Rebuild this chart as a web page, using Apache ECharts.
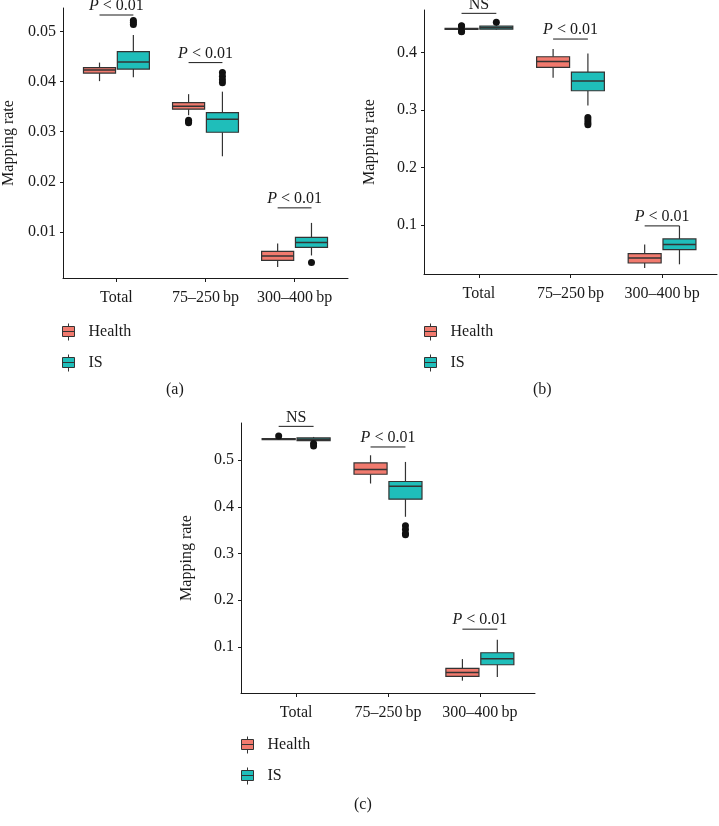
<!DOCTYPE html>
<html>
<head>
<meta charset="utf-8">
<script src="https://cdn.jsdelivr.net/npm/echarts@6/dist/echarts.min.js"></script>
<style>html,body{margin:0;padding:0;background:#fff;}#c{width:719px;height:826px;}</style>
</head>
<body>
<div id="c"></div>
<script>
// ---------- DATA ----------
const categories = ['Total', '75–250\u2009bp', '300–400\u2009bp'];
const seriesNames = ['Health', 'IS'];
// box stats per category: [min, q1, median, q3, max]
const healthA = [[0.0401, 0.0417, 0.0423, 0.0428, 0.0438], [0.0333, 0.0345, 0.0351, 0.0358, 0.0375], [0.0030, 0.0043, 0.0052, 0.0061, 0.0077]];
const isA     = [[0.0409, 0.0425, 0.0439, 0.0460, 0.0493], [0.0251, 0.0299, 0.0325, 0.0338, 0.0380], [0.0053, 0.0069, 0.0079, 0.0089, 0.0118]];
const healthB = [[0.4400, 0.4412, 0.4418, 0.4424, 0.4436], [0.3564, 0.3744, 0.3849, 0.3930, 0.4064], [0.0250, 0.0337, 0.0424, 0.0500, 0.0657]];
const isB     = [[0.4395, 0.4410, 0.4436, 0.4462, 0.4478], [0.3081, 0.3337, 0.3506, 0.3663, 0.3988], [0.0314, 0.0570, 0.0657, 0.0756, 0.0983]];
const healthC = [[0.5440, 0.5450, 0.5456, 0.5462, 0.5470], [0.4501, 0.4700, 0.4800, 0.4943, 0.5107], [0.0273, 0.0365, 0.0451, 0.0537, 0.0736]];
const isC     = [[0.5390, 0.5421, 0.5449, 0.5478, 0.5500], [0.3788, 0.4166, 0.4444, 0.4544, 0.4964], [0.0351, 0.0615, 0.0743, 0.0872, 0.1150]];
// outliers: [categoryIndex, value]
const healthOutA = [[1, 0.0323], [1, 0.0320], [1, 0.0318]];
const isOutA     = [[0, 0.0522], [0, 0.0518], [0, 0.0514], [1, 0.0418], [1, 0.0411], [1, 0.0404], [1, 0.0398], [2, 0.0039]];
const healthOutB = [[0, 0.4470], [0, 0.4460], [0, 0.4375], [0, 0.4365]];
const isOutB     = [[0, 0.4530], [1, 0.2872], [1, 0.2826], [1, 0.2779], [1, 0.2744]];
const healthOutC = [[0, 0.5520]];
const isOutC     = [[0, 0.5357], [0, 0.5307], [1, 0.3595], [1, 0.3517], [1, 0.3431], [1, 0.3403]];
// significance brackets: [categoryIndex, y, label]
const bracketsA = [[0, 0.0533, 'P < 0.01'], [1, 0.0438, 'P < 0.01'], [2, 0.0148, 'P < 0.01']];
const bracketsB = [[0, 0.4686, 'NS'], [1, 0.4238, 'P < 0.01'], [2, 0.0983, 'P < 0.01']];
const bracketsC = [[0, 0.5727, 'NS'], [1, 0.5285, 'P < 0.01'], [2, 0.1378, 'P < 0.01']];
// y tick labels
const yTicksA = [0.01, 0.02, 0.03, 0.04, 0.05];
const yTicksB = [0.1, 0.2, 0.3, 0.4];
const yTicksC = [0.1, 0.2, 0.3, 0.4, 0.5];
const captions = ['(a)', '(b)', '(c)'];

// ---------- STYLE ----------
const SERIF = '"Liberation Serif", "DejaVu Serif", serif';
const TXT = '#1a1a1a';
const EDGE = '#333333';
const FILL = {Health: '#F17A6E', IS: '#1FBEBA'};
const BOX_W = 0.36, DODGE = 0.19, BR = 0.19;
const FS = 16;

const chart = echarts.init(document.getElementById('c'));

function boxRender(offset, fill) {
  return function (params, api) {
    const x = api.value(0) + offset;
    const p = [1, 2, 3, 4, 5].map(i => api.coord([x, api.value(i)]));
    const hw = api.size([BOX_W, 0])[0] / 2;
    const cx = p[0][0];
    const ls = {stroke: EDGE, lineWidth: 1.2};
    return {type: 'group', children: [
      {type: 'line', shape: {x1: cx, y1: p[0][1], x2: cx, y2: p[1][1]}, style: ls},
      {type: 'line', shape: {x1: cx, y1: p[3][1], x2: cx, y2: p[4][1]}, style: ls},
      {type: 'rect', shape: {x: cx - hw, y: p[3][1], width: 2 * hw, height: Math.max(p[1][1] - p[3][1], 1)}, style: {fill: fill, stroke: EDGE, lineWidth: 1.2}},
      {type: 'line', shape: {x1: cx - hw, y1: p[2][1], x2: cx + hw, y2: p[2][1]}, style: {stroke: EDGE, lineWidth: 1.5}}
    ]};
  };
}
function bracketRender(arr) {
  return function (params, api) {
    const c = api.value(0), y = api.value(1);
    const label = arr[params.dataIndex][2];
    const p1 = api.coord([c - BR, y]), p2 = api.coord([c + BR, y]);
    const txt = label.startsWith('P ') ? '{i|P}' + label.slice(1) : label;
    return {type: 'group', children: [
      {type: 'line', shape: {x1: p1[0], y1: p1[1], x2: p2[0], y2: p2[1]}, style: {stroke: TXT, lineWidth: 1}},
      {type: 'text', style: {
        text: txt, x: (p1[0] + p2[0]) / 2, y: p1[1] - 1, align: 'center', verticalAlign: 'bottom',
        fill: TXT, fontFamily: SERIF, fontSize: FS,
        rich: {i: {fontStyle: 'italic', fontFamily: SERIF, fontSize: FS, fill: TXT}}
      }}
    ]};
  };
}

const panels = [
  {h: healthA, s: isA, ho: healthOutA, so: isOutA, br: bracketsA, ticks: yTicksA, min: 0.0008, max: 0.0547, dec: 2,
   grid: {left: 63, top: 8, width: 285, height: 270}, legend: {left: 57, top: 318}, cap: {left: 161, top: 377}},
  {h: healthB, s: isB, ho: healthOutB, so: isOutB, br: bracketsB, ticks: yTicksB, min: 0.0145, max: 0.4744, dec: 1,
   grid: {left: 424, top: 10, width: 293, height: 264}, legend: {left: 419, top: 318}, cap: {left: 528, top: 377}},
  {h: healthC, s: isC, ho: healthOutC, so: isOutC, br: bracketsC, ticks: yTicksC, min: 0.0009, max: 0.5799, dec: 1,
   grid: {left: 241, top: 423, width: 294, height: 270}, legend: {left: 236, top: 731}, cap: {left: 349, top: 792}}
];

const option = {
  backgroundColor: '#fff',
  animation: false,
  grid: [], xAxis: [], yAxis: [], series: [], legend: [], title: []
};

panels.forEach((P, k) => {
  option.grid.push(Object.assign({containLabel: false}, P.grid));
  option.xAxis.push({
    type: 'value', gridIndex: k, min: 0.4, max: 3.6,
    axisLine: {show: true, lineStyle: {color: TXT, width: 1}},
    axisTick: {show: true, length: 4, lineStyle: {color: TXT}, customValues: [1, 2, 3]},
    axisLabel: {show: true, customValues: [1, 2, 3], margin: 12, color: TXT, fontFamily: SERIF, fontSize: FS,
      formatter: v => categories[Math.round(v) - 1] || ''},
    splitLine: {show: false}
  });
  option.yAxis.push({
    type: 'value', gridIndex: k, min: P.min, max: P.max,
    name: 'Mapping rate', nameLocation: 'middle', nameGap: 46,
    nameTextStyle: {color: TXT, fontFamily: SERIF, fontSize: FS},
    axisLine: {show: true, lineStyle: {color: TXT, width: 1}},
    axisTick: {show: true, length: 3, lineStyle: {color: TXT}, customValues: P.ticks},
    axisLabel: {show: true, customValues: P.ticks, margin: 7, color: TXT, fontFamily: SERIF, fontSize: FS,
      formatter: v => v.toFixed(P.dec)},
    splitLine: {show: false}
  });
  [['Health', P.h, P.ho, -DODGE], ['IS', P.s, P.so, DODGE]].forEach(([nm, stats, outs, off]) => {
    option.series.push({
      type: 'custom', name: nm, xAxisIndex: k, yAxisIndex: k,
      itemStyle: {color: FILL[nm]},
      encode: {x: 0, y: [1, 2, 3, 4, 5]},
      data: stats.map((d, i) => [i + 1].concat(d)),
      renderItem: boxRender(off, FILL[nm]), z: 2
    });
    option.series.push({
      type: 'scatter', name: nm + ' outliers', xAxisIndex: k, yAxisIndex: k,
      symbol: 'circle', symbolSize: 7, itemStyle: {color: '#111', opacity: 1},
      data: outs.map(o => [o[0] + 1 + off, o[1]]), z: 3
    });
  });
  option.series.push({
    type: 'custom', name: 'brackets' + k, xAxisIndex: k, yAxisIndex: k,
    encode: {x: 0, y: 1},
    data: P.br.map(b => [b[0] + 1, b[1]]),
    renderItem: bracketRender(P.br), z: 4
  });
  option.legend.push({
    data: seriesNames, orient: 'vertical', left: P.legend.left, top: P.legend.top,
    itemWidth: 12, itemHeight: 17, itemGap: 13,
    icon: 'path://M0,3H12V13H0Z M0,8H12 M6,0V3 M6,13V17',
    itemStyle: {borderColor: EDGE, borderWidth: 1},
    textStyle: {color: TXT, fontFamily: SERIF, fontSize: FS, padding: [0, 0, 0, 9]}
  });
  option.title.push({
    text: captions[k], left: P.cap.left, top: P.cap.top,
    textStyle: {color: TXT, fontFamily: SERIF, fontSize: FS, fontWeight: 'normal'}
  });
});

chart.setOption(option);
</script>
</body>
</html>
